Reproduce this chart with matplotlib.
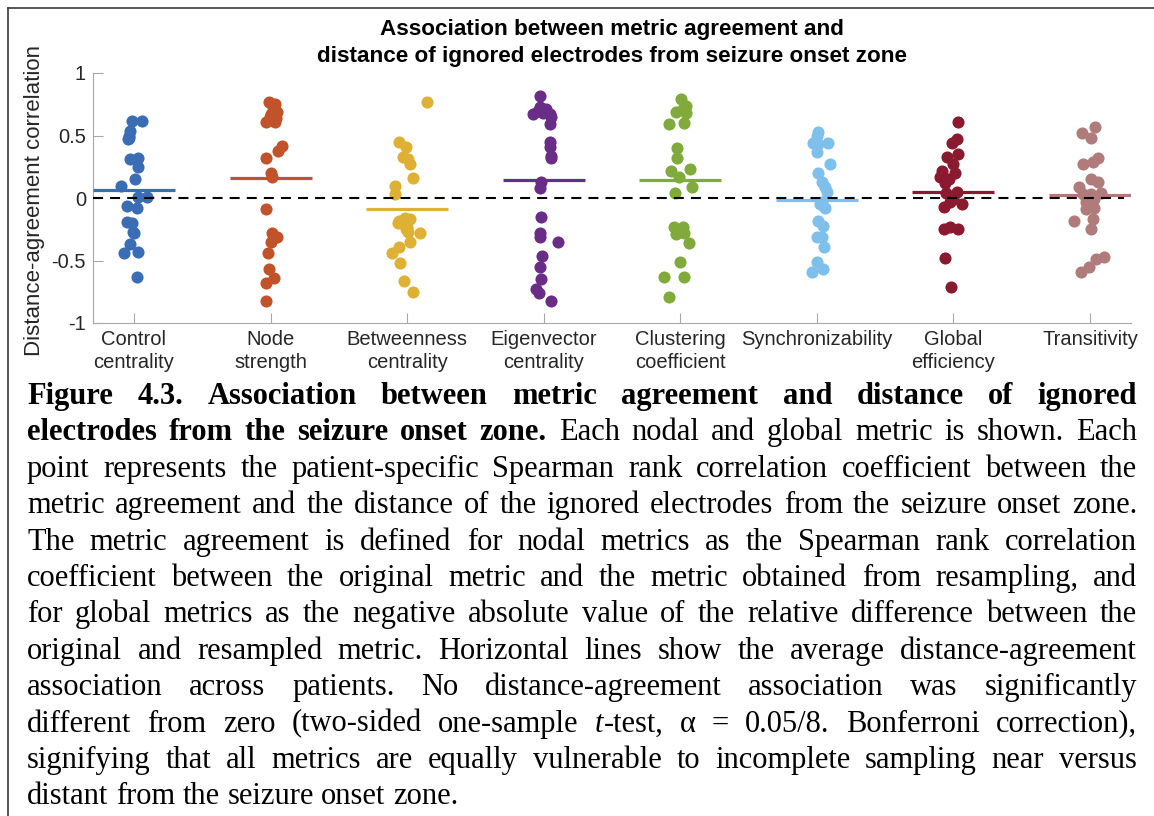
import matplotlib
matplotlib.use("Agg")
import matplotlib.pyplot as plt
from matplotlib.lines import Line2D
from matplotlib.font_manager import FontProperties

# ---------------------------------------------------------------- data
categories = ["Control\ncentrality", "Node\nstrength", "Betweenness\ncentrality",
              "Eigenvector\ncentrality", "Clustering\ncoefficient", "Synchronizability",
              "Global\nefficiency", "Transitivity"]

control_centrality = [0.62, 0.62, 0.54, 0.50, 0.48, 0.47, 0.32, 0.31, 0.25, 0.15, 0.10, 0.01,
                      0.01, -0.06, -0.08, -0.19, -0.20, -0.27, -0.28, -0.37, -0.43, -0.44, -0.63]
node_strength = [0.77, 0.75, 0.73, 0.69, 0.67, 0.65, 0.64, 0.61, 0.61, 0.42, 0.38, 0.32, 0.20,
                 0.17, -0.09, -0.28, -0.31, -0.35, -0.44, -0.57, -0.64, -0.68, -0.82]
betweenness_centrality = [0.77, 0.45, 0.41, 0.33, 0.31, 0.27, 0.16, 0.10, 0.03, -0.16, -0.17,
                          -0.18, -0.20, -0.23, -0.25, -0.27, -0.28, -0.35, -0.39, -0.44, -0.52,
                          -0.66, -0.75]
eigenvector_centrality = [0.82, 0.73, 0.71, 0.70, 0.68, 0.67, 0.67, 0.65, 0.59, 0.45, 0.41, 0.34,
                          0.32, 0.13, 0.08, -0.15, -0.28, -0.31, -0.35, -0.46, -0.55, -0.65,
                          -0.73, -0.76, -0.82]
clustering_coefficient = [0.79, 0.74, 0.71, 0.69, 0.68, 0.60, 0.59, 0.40, 0.32, 0.23, 0.22, 0.17,
                          0.09, 0.04, -0.23, -0.23, -0.28, -0.29, -0.36, -0.51, -0.63, -0.63, -0.79]
synchronizability = [0.53, 0.50, 0.44, 0.44, 0.43, 0.37, 0.27, 0.20, 0.13, 0.09, 0.05, -0.03,
                     -0.05, -0.08, -0.18, -0.22, -0.31, -0.31, -0.39, -0.51, -0.57, -0.59]
global_efficiency = [0.61, 0.47, 0.44, 0.35, 0.33, 0.27, 0.22, 0.20, 0.17, 0.15, 0.12, 0.05, 0.04,
                     -0.01, -0.03, -0.05, -0.07, -0.23, -0.25, -0.25, -0.48, -0.71]
transitivity = [0.57, 0.52, 0.48, 0.32, 0.29, 0.27, 0.15, 0.13, 0.09, 0.04, 0.03, 0.03, -0.01,
                -0.03, -0.08, -0.09, -0.17, -0.18, -0.25, -0.47, -0.49, -0.55, -0.59]

# average distance-agreement association per metric (horizontal lines)
group_means = [0.066, 0.16, -0.084, 0.143, 0.148, -0.017, 0.047, 0.028]

# horizontal jitter of each patient's dot within its column
control_jitter = [-0.017, 0.056, -0.03, -0.04, -0.04, -0.045, 0.03, -0.03, 0.03, 0.007, -0.095,
                  0.03, 0.093, -0.05, 0.02, -0.05, -0.017, -0.005, 0.0, -0.03, 0.027, -0.07, 0.025]
node_jitter = [-0.012, 0.03, 0.017, 0.046, 0.005, -0.007, 0.04, -0.032, 0.03, 0.086, 0.054,
               -0.032, 0.005, 0.012, -0.032, 0.012, 0.046, 0.005, -0.02, -0.012, 0.022, -0.032,
               -0.032]
betweenness_jitter = [0.144, -0.056, -0.007, -0.027, 0.01, 0.022, 0.042, -0.088, -0.088, -0.015,
                      0.022, -0.056, -0.064, 0.0, -0.01, 0.01, 0.095, 0.022, -0.056, -0.112,
                      -0.051, -0.022, 0.046]
eigenvector_jitter = [-0.024, -0.024, 0.02, -0.042, -0.005, -0.078, 0.044, 0.056, 0.049, 0.049,
                      0.044, 0.056, 0.056, -0.017, -0.024, -0.017, -0.029, -0.024, 0.105, -0.01,
                      -0.024, -0.017, -0.054, -0.034, 0.056]
clustering_jitter = [0.005, 0.042, 0.017, -0.032, 0.042, 0.029, -0.086, -0.024, -0.024, 0.073,
                     -0.068, -0.007, 0.083, -0.037, -0.049, 0.017, 0.024, -0.032, 0.066, 0.0,
                     -0.117, 0.024, -0.086]
synchronizability_jitter = [0.01, -0.002, -0.027, 0.083, 0.01, -0.002, 0.095, 0.01, 0.034, 0.059,
                            0.071, 0.034, 0.022, 0.059, 0.01, 0.042, -0.002, 0.034, 0.051,
                            -0.002, 0.046, -0.039]
global_jitter = [0.034, 0.027, -0.01, 0.032, -0.046, 0.0, -0.083, 0.01, -0.1, -0.034, -0.064,
                 0.027, -0.051, 0.0, -0.022, 0.064, -0.071, -0.022, -0.071, 0.032, -0.059, -0.017]
transitivity_jitter = [0.037, -0.061, 0.007, 0.061, 0.02, -0.054, 0.007, 0.056, -0.078, 0.081,
                       0.007, -0.054, 0.032, -0.029, 0.032, -0.029, 0.02, -0.115, 0.007, 0.105,
                       0.044, -0.005, -0.066]

yticks = [-1, -0.5, 0, 0.5, 1]
ytick_labels = ["-1", "-0.5", "0", "0.5", "1"]

title_lines = ["Association between metric agreement and",
               "distance of ignored electrodes from seizure onset zone"]
ylabel = "Distance-agreement correlation"

caption_lines = [
    [("Figure 4.3. Association between metric agreement and distance of ignored", "bold")],
    [("electrodes from the seizure onset zone.", "bold"),
     (" Each nodal and global metric is shown. Each", "normal")],
    [("point represents the patient-specific Spearman rank correlation coefficient between the", "normal")],
    [("metric agreement and the distance of the ignored electrodes from the seizure onset zone.", "normal")],
    [("The metric agreement is defined for nodal metrics as the Spearman rank correlation", "normal")],
    [("coefficient between the original metric and the metric obtained from resampling, and", "normal")],
    [("for global metrics as the negative absolute value of the relative difference between the", "normal")],
    [("original and resampled metric. Horizontal lines show the average distance-agreement", "normal")],
    [("association across patients. No distance-agreement association was significantly", "normal")],
    [("different from zero (two-sided one-sample ", "normal"), ("t", "italic"),
     ("-test, \u03b1 = 0.05/8. Bonferroni correction),", "normal")],
    [("signifying that all metrics are equally vulnerable to incomplete sampling near versus", "normal")],
    [("distant from the seizure onset zone.", "normal")],
]

# ---------------------------------------------------------------- style
colors = ["#3b6db5", "#c1532a", "#deb033", "#6a2d87", "#80ab3c", "#7fbfec", "#8a1a30", "#b07b7b"]
W, H = 1154, 816
SANS = "Liberation Sans"
SERIF = "Liberation Serif"

fig = plt.figure(figsize=(W / 100, H / 100), dpi=100)
fig.patch.set_facecolor("white")


def fx(px):
    return px / W


def fy(py):
    return 1 - py / H


ax = fig.add_axes([fx(93), fy(323), fx(1131) - fx(93), fy(73) - fy(323)])

series = [control_centrality, node_strength, betweenness_centrality, eigenvector_centrality,
          clustering_coefficient, synchronizability, global_efficiency, transitivity]
jitters = [control_jitter, node_jitter, betweenness_jitter, eigenvector_jitter,
           clustering_jitter, synchronizability_jitter, global_jitter, transitivity_jitter]

for i, (vals, jit, m, c) in enumerate(zip(series, jitters, group_means, colors), start=1):
    ax.scatter([i + j for j in jit], vals, s=76, color=c, linewidths=0, zorder=2)
    ax.plot([i - 0.3, i + 0.3], [m, m], color=c, lw=2.3, solid_capstyle="butt", zorder=3)

ax.plot([0.7, 8.25], [0, 0], color="black", lw=1.5, linestyle=(0, (4.8, 3.4)), zorder=4)

ax.set_xlim(0.7, 8.3)
ax.set_ylim(-1, 1)
ax.set_xticks(range(1, len(categories) + 1))
ax.set_xticklabels(categories, fontfamily=SANS, fontsize=14.5, color="#262626")
ax.set_yticks(yticks)
ax.set_yticklabels(ytick_labels, fontfamily=SANS, fontsize=14.5, color="#262626")
for lab in ax.get_xticklabels():
    lab.set_linespacing(1.25)
ax.tick_params(direction="in", length=7.2, width=0.8, color="#a8a8a8", pad=5)
for side in ("top", "right"):
    ax.spines[side].set_visible(False)
for side in ("left", "bottom"):
    ax.spines[side].set_color("#a8a8a8")
    ax.spines[side].set_linewidth(0.8)

fig.text(fx(35), fy(200), ylabel, rotation=90, ha="center", va="center",
         fontfamily=SANS, fontsize=16, color="#262626")

fig.text(fx(612), fy(35), title_lines[0], ha="center", va="baseline",
         fontfamily=SANS, fontsize=16.2, fontweight="bold", color="black")
fig.text(fx(612), fy(62), title_lines[1], ha="center", va="baseline",
         fontfamily=SANS, fontsize=16.2, fontweight="bold", color="black")

# ---------------------------------------------------------------- frame
frame_kw = dict(transform=fig.transFigure, color="#3a3a3a", lw=1.2)
fig.add_artist(Line2D([fx(7.5), fx(7.5)], [0, fy(7.5)], **frame_kw))
fig.add_artist(Line2D([fx(7.5), 1], [fy(7.5), fy(7.5)], **frame_kw))

# ---------------------------------------------------------------- caption (justified)
cap_size = 22
cap_left, cap_right = 27, 1137
cap_first_baseline, cap_step = 404, 36.4


def props(style):
    return FontProperties(family=SERIF, size=cap_size,
                          weight="bold" if style == "bold" else "normal",
                          style="italic" if style == "italic" else "normal")


renderer = fig.canvas.get_renderer()


def measure(text, style):
    t = fig.text(0, 0, text, fontproperties=props(style))
    w = t.get_window_extent(renderer).width
    t.remove()
    return w


space_w = measure("x x", "normal") - measure("xx", "normal")

for li, runs in enumerate(caption_lines):
    words = [[]]
    for text, style in runs:
        parts = text.split(" ")
        for k, part in enumerate(parts):
            if k > 0:
                words.append([])
            if part:
                words[-1].append((part, style))
    words = [w for w in words if w]
    widths = [[measure(t, s) for t, s in w] for w in words]
    total = sum(sum(ws) for ws in widths)
    last = li == len(caption_lines) - 1
    gap = space_w if last else (cap_right - cap_left - total) / (len(words) - 1)
    x = cap_left
    base = cap_first_baseline + li * cap_step
    for w, ws in zip(words, widths):
        for (t, s), wd in zip(w, ws):
            fig.text(fx(x), fy(base), t, fontproperties=props(s), ha="left",
                     va="baseline", color="black")
            x += wd
        x += gap

fig.savefig("out.png", dpi=100)
